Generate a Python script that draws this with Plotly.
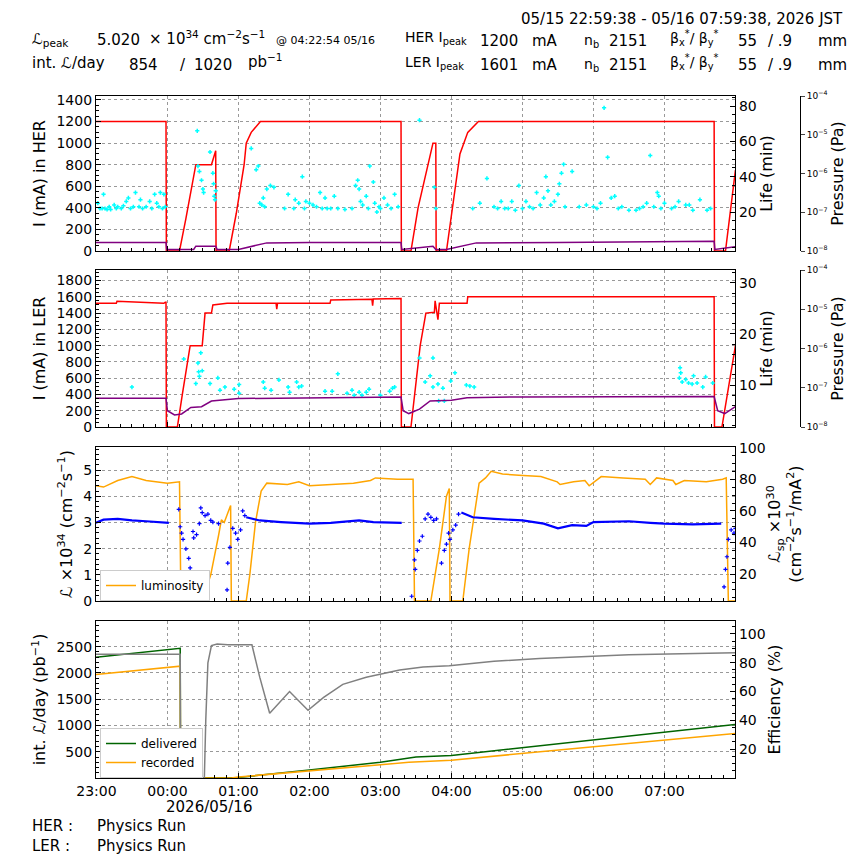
import plotly.graph_objects as go

# time in hours after 23:00 (05/15)
tick_vals = [0, 1, 2, 3, 4, 5, 6, 7, 8]
tick_text = ["23:00", "00:00", "01:00", "02:00", "03:00", "04:00", "05:00", "06:00", "07:00"]

# ---- HER panel ----
her_t = [-0.01, 0.98, 0.985, 1.17, 1.26, 1.40, 1.62, 1.68, 1.685, 1.87, 1.97, 2.08, 2.11, 2.18, 2.31, 4.29, 4.295, 4.43, 4.53, 4.74, 4.78, 4.785, 4.93, 5.12, 5.23, 5.38, 8.70, 8.705, 8.86, 9.0]
her_i = [1200, 1200, 0, 0, 300, 800, 800, 930, 0, 0, 350, 800, 1000, 1100, 1200, 1200, 0, 0, 400, 1000, 1000, 0, 0, 900, 1100, 1200, 1200, 0, 0, 750]
her_p_t = [-0.01, 0.98, 0.99, 1.37, 1.40, 1.68, 1.70, 2.00, 2.40, 3.00, 4.29, 4.30, 4.74, 4.78, 4.93, 5.35, 6.50, 8.70, 8.71, 9.0]
her_p = [1.66e-8, 1.66e-8, 1.10e-8, 1.10e-8, 1.33e-8, 1.33e-8, 1.10e-8, 1.10e-8, 1.62e-8, 1.66e-8, 1.66e-8, 1.10e-8, 1.33e-8, 1.10e-8, 1.10e-8, 1.62e-8, 1.66e-8, 1.78e-8, 1.10e-8, 1.29e-8]
her_life = [(0.02,25),(0.05,22),(0.08,22),(0.1,30),(0.12,22),(0.15,21.5),(0.18,23),(0.2,21.5),(0.25,24),(0.28,22),(0.3,23),(0.35,22),(0.38,23.5),(0.42,26),(0.45,28),(0.48,22),(0.52,23),(0.55,31),(0.6,23),(0.62,27),(0.65,22),(0.7,23),(0.75,26),(0.78,22),(0.82,30),(0.85,25),(0.88,23),(0.9,31),(0.93,22),(0.95,30),(0.97,23),
            (1.42,66),(1.43,46),(1.45,43),(1.48,38),(1.5,33),(1.51,31),(1.6,54),(1.64,42),(1.65,36),(1.66,29),(1.67,27),(1.68,32),
            (2.18,56),(2.25,44),(2.28,46),(2.3,25),(2.33,24),(2.37,23),(2.4,33),(2.35,28),(2.45,35),(2.5,34),
            (2.65,22),(2.7,30),(2.78,22),(2.8,27),(2.85,25),(2.9,40),(2.93,22),(2.95,26),(3.0,25),(3.05,24),(3.1,23),(3.15,31),(3.18,22),(3.22,28),(3.25,22),(3.3,22),(3.35,29),(3.4,22),(3.5,21.5),(3.6,22),(3.65,35),(3.68,38),(3.7,33),(3.72,26),(3.75,24),(3.8,29),(3.83,22),(3.85,46),(3.9,37),(3.92,25),(3.95,20),(3.98,23),(4.0,22),(4.05,28),(4.1,24),(4.15,22),(4.2,30),(4.25,23),
            (4.55,72),(4.76,34),(4.78,22),
            (5.3,22),(5.4,25),(5.5,39),(5.6,23),(5.65,22),(5.7,26),(5.75,22),(5.8,22),(5.85,26),(5.9,21),(5.95,35),(6.0,22),(6.05,26),(6.1,23),(6.15,22),(6.2,31),(6.25,24),(6.3,28),(6.33,40),(6.36,32),(6.4,24),(6.45,26),(6.5,30),(6.52,36),(6.55,42),(6.58,47),(6.6,23),(6.7,43),(6.8,23),(6.9,24),(7.0,23),(7.05,22),(7.1,25),(7.15,79),(7.2,51),(7.25,28),(7.3,29),(7.35,22),(7.4,23),(7.5,21),(7.6,21),(7.65,22),(7.7,23),(7.75,25),(7.8,52),(7.85,23),(7.9,31),(7.92,29),(7.95,22),(8.0,25),(8.1,22),(8.15,23),(8.2,26),(8.3,24),(8.35,24),(8.4,21),(8.5,27),(8.6,21),(8.65,22)]

# ---- LER panel ----
ler_t = [-0.01, 0.28, 0.29, 0.95, 0.97, 0.98, 0.985, 1.14, 1.21, 1.32, 1.49, 1.53, 1.62, 1.64, 1.84, 2.53, 2.54, 2.55, 3.29, 3.30, 3.88, 3.89, 3.90, 4.12, 4.29, 4.295, 4.43, 4.56, 4.64, 4.76, 4.77, 4.81, 4.83, 5.22, 5.23, 8.70, 8.705, 8.81, 9.0]
ler_i = [1520, 1520, 1545, 1520, 1535, 1535, 0, 0, 400, 1000, 1000, 1400, 1400, 1500, 1520, 1520, 1450, 1520, 1520, 1560, 1570, 1490, 1575, 1580, 1580, 0, 0, 1000, 1400, 1410, 1550, 1320, 1520, 1520, 1600, 1600, 0, 0, 1000]
ler_p_t = [-0.01, 0.98, 1.00, 1.10, 1.20, 1.33, 1.48, 1.62, 2.00, 3.00, 4.29, 4.32, 4.40, 4.55, 4.70, 5.00, 5.22, 6.00, 8.70, 8.75, 8.85, 9.0]
ler_p = [5.42e-8, 5.42e-8, 2.60e-8, 2.03e-8, 2.15e-8, 3.14e-8, 3.30e-8, 4.60e-8, 5.31e-8, 5.57e-8, 5.85e-8, 2.60e-8, 2.20e-8, 2.86e-8, 4.60e-8, 4.83e-8, 5.57e-8, 5.85e-8, 5.98e-8, 2.60e-8, 2.20e-8, 3.30e-8]
ler_life = [(0.50,9.6),(1.23,15.1),(1.40,10.3),(1.43,14.3),(1.44,12.6),(1.47,16.3),(1.49,12.8),(1.45,11.7),(1.60,10.3),(1.71,11.4),(1.74,9.0),(1.81,9.6),(1.94,9.2),(2.01,10.1),(2.01,8.4),(2.35,10.6),(2.37,9.4),(2.46,9.0),(2.57,11.0),(2.70,9.6),(2.72,8.6),(2.82,10.6),(2.85,9.6),(2.89,9.8),(3.22,8.8),(3.32,8.8),(3.40,12.2),(3.53,8.4),(3.60,9.0),(3.63,8.0),(3.70,8.6),(3.74,8.0),(3.80,8.6),(3.84,9.2),(4.00,8.0),(4.13,8.8),(4.17,9.4),(4.20,9.6),
            (4.55,15.3),(4.63,10.6),(4.70,11.8),(4.74,15.3),(4.74,9.6),(4.81,10.2),(4.82,6.9),(4.88,9.4),(4.90,6.9),(4.99,10.8),(5.05,12.4),(5.21,10.0),(5.26,9.8),(5.32,9.6),
            (8.22,13.4),(8.23,12.4),(8.25,10.6),(8.21,11.4),(8.30,11.1),(8.34,10.4),(8.39,10.2),(8.41,11.8),(8.46,10.4),(8.54,9.6),(8.58,11.6),(8.68,10.4)]

# ---- luminosity panel ----
lum_t = [-0.01, 0.1, 0.3, 0.45, 0.5, 0.7, 0.9, 1.0, 1.17, 1.19, 1.49, 1.61, 1.72, 1.76, 1.80, 1.85, 1.89, 1.90, 2.11, 2.16, 2.24, 2.32, 2.40, 2.69, 2.85, 3.0, 3.31, 3.62, 3.86, 3.93, 4.24, 4.46, 4.48, 4.71, 4.83, 4.91, 4.93, 4.97, 4.98, 5.16, 5.25, 5.39, 5.48, 5.56, 5.72, 5.95, 6.26, 6.49, 6.53, 6.72, 6.88, 6.94, 7.11, 7.42, 7.73, 7.80, 7.89, 8.12, 8.16, 8.28, 8.59, 8.82, 8.87, 8.90, 9.0]
lum = [4.4, 4.35, 4.6, 4.7, 4.75, 4.6, 4.55, 4.5, 4.55, 0, 0, 1.0, 2.5, 3.1, 3.0, 3.4, 3.65, 0, 0, 1.0, 3.0, 4.2, 4.5, 4.45, 4.55, 4.4, 4.45, 4.5, 4.6, 4.7, 4.65, 4.65, 0, 0, 2.0, 3.5, 4.0, 4.3, 0, 0, 2.0, 4.5, 4.7, 4.95, 4.85, 4.8, 4.75, 4.55, 4.45, 4.55, 4.6, 4.4, 4.75, 4.7, 4.65, 4.45, 4.7, 4.6, 4.45, 4.6, 4.55, 4.65, 4.7, 0, 0]
lsp_t = [-0.01, 0.1, 0.3, 0.5, 0.7, 0.9, 1.02, None, 2.11, 2.3, 2.6, 3.0, 3.3, 3.7, 3.9, 4.3, None, 5.14, 5.3, 5.6, 6.0, 6.3, 6.5, 6.7, 6.9, 7.0, 7.5, 7.8, 8.0, 8.4, 8.8]
lsp = [52.5, 54.5, 55, 54, 53.5, 53, 52.5, None, 56, 54, 53, 52, 52.5, 54, 53, 52.5, None, 59, 56, 55, 54, 52, 49, 51, 50.5, 53, 53.5, 52.5, 52, 51.5, 52]
lsp_pts = [(1.16,61),(1.18,50),(1.20,46),(1.22,42),(1.26,36),(1.30,30),(1.32,24),(1.33,7),(1.36,47),(1.37,43),(1.41,45),(1.45,52),(1.47,62),(1.49,59),(1.53,57),(1.57,58),(1.61,54),(1.64,53),(1.72,52),(1.84,10),(1.85,27),(1.88,37),(1.92,49),(1.96,46),(1.99,42),(2.03,48),(2.06,60),(2.09,57),
           (4.44,6),(4.48,29),(4.49,23),(4.52,35),(4.55,41),(4.59,44),(4.63,55),(4.67,58),(4.71,56),(4.75,54),(4.79,55),(4.86,27),(4.90,35),(4.93,39),(4.96,46),(4.98,42),(5.02,48),(5.06,51),(5.10,58),
           (8.84,12),(8.86,23),(8.88,31),(8.90,42),(8.94,48),(8.98,46),(9.0,49)]

# ---- integrated luminosity panel ----
del_t = [-0.01, 1.18, 1.185, 1.7, 2.0, 3.0, 4.0, 4.5, 5.0, 9.0]
delivered = [2300, 2470, 0, 0, 10, 150, 300, 400, 430, 1020]
rec_t = [-0.01, 1.18, 1.185, 1.9, 2.0, 3.0, 4.0, 4.4, 5.0, 9.0]
recorded = [1970, 2130, 0, 0, 20, 130, 250, 300, 340, 850]
eff_t = [-0.01, 1.18, 1.185, 1.52, 1.54, 1.57, 1.62, 1.7, 1.85, 2.19, 2.3, 2.44, 2.72, 2.98, 3.2, 3.47, 3.8, 4.27, 4.6, 4.97, 5.6, 6.24, 7.5, 8.96, 9.0]
eff = [86, 86, 0, 0, 40, 80, 92, 93, 92.5, 92.5, 70, 45, 60, 47, 56, 65, 70, 75, 77, 78, 81, 83, 85.5, 87, 87]

W = 864.0
OFF = 8.0  # page body margin
def fx(p): return (p - OFF) / W
def fy(p): return 1 - (p - OFF) / W

XD = [fx(96), fx(735)]
panels = {1: (96, 251), 2: (270, 427), 3: (447, 601), 4: (621, 778)}

fig = go.Figure()
cross = lambda c, w: dict(color=c, size=3, symbol="cross-thin", line=dict(color=c, width=w))
fig.add_trace(go.Scatter(x=her_t, y=her_i, mode="lines", line=dict(color="red", width=1.5), xaxis="x", yaxis="y", showlegend=False))
fig.add_trace(go.Scatter(x=[p[0] for p in her_life], y=[p[1] for p in her_life], mode="markers", marker=cross("cyan", 1.5), xaxis="x", yaxis="y2", showlegend=False))
fig.add_trace(go.Scatter(x=her_p_t, y=her_p, mode="lines", line=dict(color="purple", width=1.5), xaxis="x", yaxis="y3", showlegend=False))

fig.add_trace(go.Scatter(x=ler_t, y=ler_i, mode="lines", line=dict(color="red", width=1.5), xaxis="x2", yaxis="y4", showlegend=False))
fig.add_trace(go.Scatter(x=[p[0] for p in ler_life], y=[p[1] for p in ler_life], mode="markers", marker=cross("cyan", 1.5), xaxis="x2", yaxis="y5", showlegend=False))
fig.add_trace(go.Scatter(x=ler_p_t, y=ler_p, mode="lines", line=dict(color="purple", width=1.5), xaxis="x2", yaxis="y6", showlegend=False))

fig.add_trace(go.Scatter(x=lsp_t, y=lsp, mode="lines", line=dict(color="blue", width=2.2), xaxis="x3", yaxis="y8", showlegend=False, connectgaps=False))
fig.add_trace(go.Scatter(x=[p[0] for p in lsp_pts], y=[p[1] for p in lsp_pts], mode="markers", marker=cross("blue", 1.2), xaxis="x3", yaxis="y8", showlegend=False))
fig.add_trace(go.Scatter(x=lum_t, y=lum, mode="lines", name="luminosity", line=dict(color="orange", width=1.5), xaxis="x3", yaxis="y7", legend="legend"))

fig.add_trace(go.Scatter(x=eff_t, y=eff, mode="lines", line=dict(color="gray", width=1.5), xaxis="x4", yaxis="y10", showlegend=False))
fig.add_trace(go.Scatter(x=del_t, y=delivered, mode="lines", name="delivered", line=dict(color="darkgreen", width=1.5), xaxis="x4", yaxis="y9", legend="legend2"))
fig.add_trace(go.Scatter(x=rec_t, y=recorded, mode="lines", name="recorded", line=dict(color="orange", width=1.5), xaxis="x4", yaxis="y9", legend="legend2"))

FONT = "DejaVu Sans"
axcommon = dict(showline=True, linecolor="black", linewidth=1.2, mirror=True, ticks="inside", ticklen=5, tickcolor="black",
                tickfont=dict(size=14, color="black"), zeroline=False)
xcommon = dict(axcommon, range=[-0.006, 8.994], tickvals=tick_vals, ticktext=tick_text, showgrid=True, gridcolor="#999",
               griddash="dot", gridwidth=0.8, automargin=False, ticklabelstandoff=0,
               minor=dict(ticks="inside", ticklen=3, dtick=1/6, tick0=0, showgrid=False), domain=XD)
lay = {}
for i in range(1, 5):
    k = "xaxis" if i == 1 else f"xaxis{i}"
    d = dict(xcommon)
    if i != 4:
        d["showticklabels"] = False
        d["matches"] = "x4"
    lay[k] = d
    lay[k]["anchor"] = {1: "y", 2: "y4", 3: "y7", 4: "y9"}[i]

def dom(i): return [fy(panels[i][1]), fy(panels[i][0])]
ycommon = dict(axcommon, showgrid=True, gridcolor="#999", griddash="dot", gridwidth=0.8, automargin=False)
tf = dict(size=16, color="black")
rcommon = dict(axcommon, side="right", showgrid=False, mirror=False, automargin=False)
lay["yaxis"] = dict(ycommon, domain=dom(1), range=[0, 1437], dtick=200, anchor="x", title=dict(text="I (mA) in HER", font=tf, standoff=6), minor=dict(ticks="inside", ticklen=3, dtick=50))
lay["yaxis2"] = dict(rcommon, overlaying="y", anchor="x", range=[-2.07, 85.7], tickvals=[20, 40, 60, 80], title=dict(text="Life (min)", font=tf, standoff=4), minor=dict(ticks="inside", ticklen=3, dtick=5))
ptv = [1e-8, 1e-7, 1e-6, 1e-5, 1e-4]
ptt = ["10<sup>−8</sup>", "10<sup>−7</sup>", "10<sup>−6</sup>", "10<sup>−5</sup>", "10<sup>−4</sup>"]
pcommon = dict(type="log", range=[-8, -4], side="right", tickvals=ptv, ticktext=ptt, showline=True, linecolor="black", linewidth=1,
               ticks="outside", ticklen=4, tickfont=dict(size=9, color="black"), showgrid=False, zeroline=False, automargin=False,
               anchor="free", position=fx(800), title=dict(text="Pressure (Pa)", font=tf, standoff=2))
lay["yaxis3"] = dict(pcommon, overlaying="y")
lay["yaxis4"] = dict(ycommon, domain=dom(2), range=[0, 1930], dtick=200, anchor="x2", title=dict(text="I (mA) in LER", font=tf, standoff=6), minor=dict(ticks="inside", ticklen=3, dtick=50))
lay["yaxis5"] = dict(rcommon, overlaying="y4", anchor="x2", range=[1.8, 32.5], tickvals=[10, 20, 30], title=dict(text="Life (min)", font=tf, standoff=4), minor=dict(ticks="inside", ticklen=3, dtick=2))
lay["yaxis6"] = dict(pcommon, overlaying="y4")
lay["yaxis7"] = dict(ycommon, domain=dom(3), range=[0, 5.88], dtick=1, anchor="x3", title=dict(text="ℒ ×10<sup>34</sup> (cm<sup>−2</sup>s<sup>−1</sup>)", font=tf, standoff=6), minor=dict(ticks="inside", ticklen=3, dtick=0.2))
lay["yaxis8"] = dict(rcommon, overlaying="y7", anchor="x3", range=[3, 100.5], tickvals=[20, 40, 60, 80, 100],
                     title=dict(text="ℒ<sub>sp</sub> ×10<sup>30</sup><br>(cm<sup>−2</sup>s<sup>−1</sup>/mA<sup>2</sup>)", font=tf, standoff=4), minor=dict(ticks="inside", ticklen=3, dtick=5))
lay["yaxis9"] = dict(ycommon, domain=dom(4), range=[0, 2990], tickvals=[500, 1000, 1500, 2000, 2500], anchor="x4", title=dict(text="int. ℒ/day (pb<sup>−1</sup>)", font=tf, standoff=6), minor=dict(ticks="inside", ticklen=3, dtick=100))
lay["yaxis10"] = dict(rcommon, overlaying="y9", anchor="x4", range=[0, 109], tickvals=[20, 40, 60, 80, 100], title=dict(text="Efficiency (%)", font=tf, standoff=4), minor=dict(ticks="inside", ticklen=3, dtick=5))

fig.update_layout(**lay)
fig.update_layout(width=864, height=864, margin=dict(l=0, r=0, t=0, b=0, autoexpand=False), plot_bgcolor="white", paper_bgcolor="white",
                  font=dict(family=FONT, color="black", size=14),
                  legend=dict(x=fx(100), y=fy(570), xanchor="left", yanchor="top", bgcolor="white", bordercolor="#ccc", borderwidth=1, font=dict(size=12), tracegroupgap=0),
                  legend2=dict(x=fx(100), y=fy(728), xanchor="left", yanchor="top", bgcolor="white", bordercolor="#ccc", borderwidth=1, font=dict(size=12), tracegroupgap=0))

def ann(x, y, text, size=15, anchor="left", yanchor="middle"):
    fig.add_annotation(x=fx(x), y=fy(y), xref="paper", yref="paper", text=text, showarrow=False, xanchor=anchor, yanchor=yanchor, font=dict(size=size, color="black"))

ann(845, 8, "05/15 22:59:38 - 05/16 07:59:38, 2026 JST", anchor="right", yanchor="top")
ann(30, 40, "ℒ<sub>peak</sub>")
ann(95, 40, "5.020")
ann(147, 38, "× 10<sup>34</sup> cm<sup>−2</sup>s<sup>−1</sup>")
ann(274, 41, "@ 04:22:54 05/16", size=11)
ann(403, 38, "HER I<sub>peak</sub>", size=14)
ann(478, 41, "1200")
ann(530, 41, "mA")
ann(582, 41, "n<sub>b</sub>", size=14)
ann(607, 41, "2151")
ann(668, 38, "β<sub>x</sub><sup>*</sup>/ β<sub>y</sub><sup>*</sup>", size=14)
ann(736, 41, "55")
ann(766, 41, "/ .9")
ann(816, 41, "mm")
ann(30, 63, "int. ℒ/day")
ann(127, 65, "854")
ann(178, 65, "/")
ann(192, 65, "1020")
ann(246, 61, "pb<sup>−1</sup>")
ann(403, 63, "LER I<sub>peak</sub>", size=14)
ann(478, 65, "1601")
ann(530, 65, "mA")
ann(582, 65, "n<sub>b</sub>", size=14)
ann(607, 65, "2151")
ann(668, 62, "β<sub>x</sub><sup>*</sup>/ β<sub>y</sub><sup>*</sup>", size=14)
ann(736, 65, "55")
ann(766, 65, "/ .9")
ann(816, 65, "mm")
ann(209, 807, "2026/05/16", anchor="center")
ann(30, 826, "HER :")
ann(95, 826, "Physics Run")
ann(30, 846, "LER :")
ann(95, 846, "Physics Run")

fig.write_html("out.html")
